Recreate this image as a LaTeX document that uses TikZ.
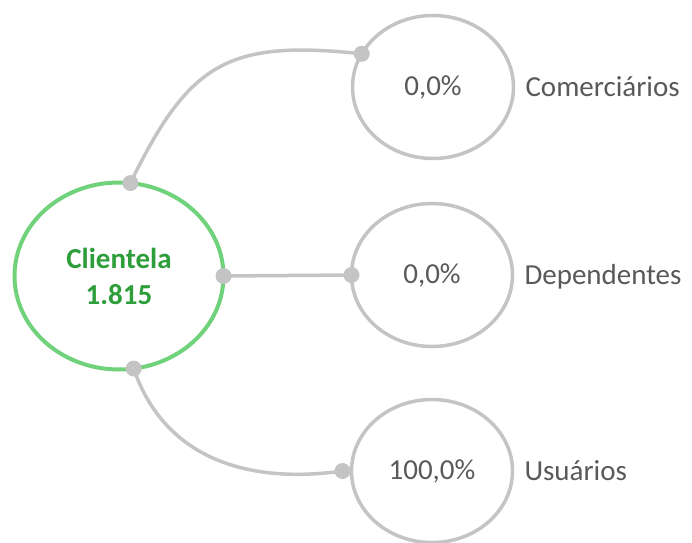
\documentclass[tikz,border=0pt]{standalone}
\usepackage{fontspec}
\setmainfont{Carlito}
\usetikzlibrary{positioning, shapes.geometric}
\definecolor{ringgray}{RGB}{196,196,196}
\definecolor{ringgreen}{RGB}{112,210,122}
\definecolor{textgreen}{RGB}{46,158,58}
\definecolor{textgray}{RGB}{89,89,89}

\begin{document}
\begin{tikzpicture}[
    x=1pt, y=1pt,
    node distance=12pt,
    every node/.style={font=\fontsize{29}{36}\selectfont, inner sep=0pt, outer sep=0pt},
    main/.style={draw=ringgreen, line width=4pt, ellipse, minimum width=209pt, minimum height=187pt, text=textgreen, font=\fontsize{29}{36}\selectfont\bfseries, align=center},
    share/.style={draw=ringgray, line width=3.5pt, ellipse, minimum width=161pt, minimum height=143pt, text=textgray},
    grouplabel/.style={text=textgray, text height=18.7pt, text depth=0pt},
    link/.style={draw=ringgray, line width=3.5pt},
    knob/.style={fill=ringgray}
]
\useasboundingbox (0,0) rectangle (692,542);

\node[main] (cli) at (119,266) {Clientela\\1.815};
\node[share] (com) at (433,455) {0,0\%};
\node[share] (dep) at (432,267) {0,0\%};
\node[share] (usu) at (432,71) {100,0\%};

\node[grouplabel, right=of com] (comlbl) {Comerciários};
\node[grouplabel, right=of dep] (deplbl) {Dependentes};
\node[grouplabel, right=of usu] (usulbl) {Usuários};
\coordinate[left=9pt of usu] (usuend);

\draw[link] (cli.83) to[out=64, in=174, looseness=1.3] (com.155);
\draw[link] (cli.east) -- (dep.west);
\draw[link] (cli.-81) to[out=-71, in=188, looseness=1.05] (usuend);

\foreach \p in {cli.83, com.155, cli.east, dep.west, cli.-81, usuend}
    \fill[knob] (\p) circle (8);
\end{tikzpicture}
\end{document}
